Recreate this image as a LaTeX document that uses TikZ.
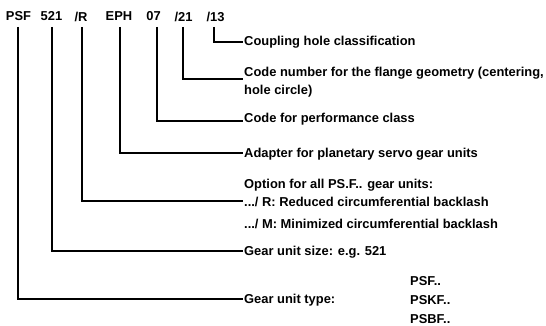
\documentclass[tikz,border=0pt]{standalone}
\usepackage{fontspec}
\setmainfont{Liberation Sans}
\begin{document}
\begin{tikzpicture}[x=1pt,y=-1pt,
  code/.style={font=\bfseries\fontsize{12.9}{15}\selectfont, inner sep=0pt, anchor=center},
  lbl/.style={font=\bfseries\fontsize{12.9}{15}\selectfont, inner sep=1pt, anchor=west},
  conn/.style={line width=1.2pt, black}]
\useasboundingbox (0,0) rectangle (546,326);
% top code parts
\node[code] (cPSF) at (18.5,16.5) {PSF};
\node[code] (c521) at (51.5,16.5) {521};
\node[code] (cR)   at (81,16.5) {/R};
\node[code] (cEPH) at (119,16.5) {EPH};
\node[code] (c07)  at (153.5,16.5) {07};
\node[code] (c21)  at (183.5,16.5) {/21};
\node[code] (c13)  at (215.5,16.5) {/13};
% start points of connectors
\coordinate (sPSF) at (18,27);
\coordinate (s521) at (52,27);
\coordinate (sR)   at (82,27);
\coordinate (sEPH) at (120,27);
\coordinate (s07)  at (157,27);
\coordinate (s21)  at (183,27);
\coordinate (s13)  at (214,27);
% descriptions
\node[lbl] (t13) at (243,42) {Coupling hole classification};
\node[lbl] (t21) at (243,73) {Code number for the flange geometry (centering,};
\node[lbl] (t21b) at (243,91) {hole circle)};
\node[lbl] (t07) at (243,119) {Code for performance class};
\node[lbl] (tEPH) at (243,154) {Adapter for planetary servo gear units};
\node[lbl] (tOpt) at (243,185) {Option for all PS.F.. gear units:};
\node[lbl] (tR) at (243,202) {.../ R: Reduced circumferential backlash};
\node[lbl] (tM) at (243,224) {.../ M: Minimized circumferential backlash};
\node[lbl] (t521) at (243,252) {Gear unit size: e.g. 521};
\node[lbl] (tType) at (243,300) {Gear unit type:};
\node[lbl] (pA) at (409,281) {PSF..};
\node[lbl] (pB) at (409,300) {PSKF..};
\node[lbl] (pC) at (409,319) {PSBF..};
% connectors
\draw[conn] (s13) |- (t13.west);
\draw[conn] (s21) |- ([yshift=-6pt]t21.west);
\draw[conn] (s07) |- ([yshift=-2pt]t07.west);
\draw[conn] (sEPH) |- ([yshift=1pt]tEPH.west);
\draw[conn] (sR) |- ([yshift=1pt]tR.west);
\draw[conn] (s521) |- ([yshift=1pt]t521.west);
\draw[conn] (sPSF) |- ([yshift=1pt]tType.west);
\end{tikzpicture}
\end{document}
